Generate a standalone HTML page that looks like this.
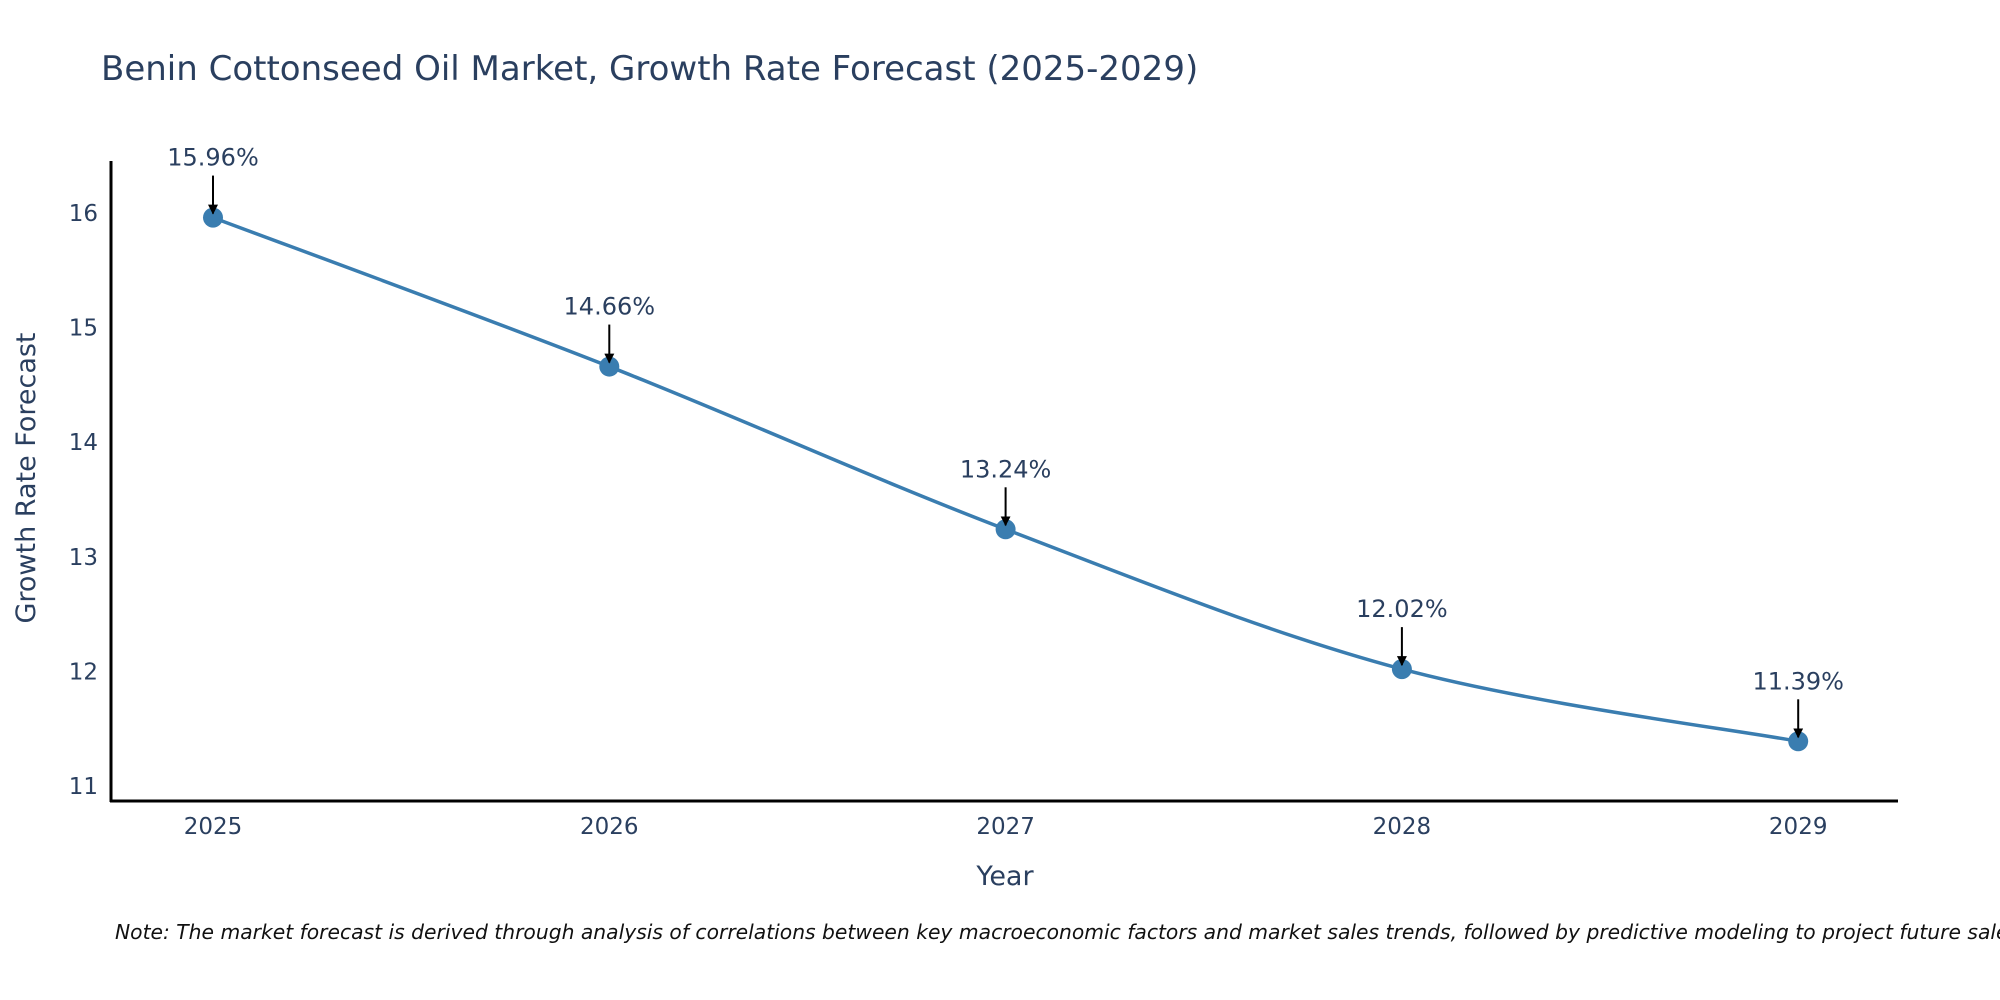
<!DOCTYPE html>
<html><head><meta charset="utf-8"><style>
body{margin:0;background:#fff}
svg{display:block;font-family:"DejaVu Sans","Liberation Sans",sans-serif}
</style></head><body>
<svg id="chart" width="2000" height="1000">
<text x="101" y="80" font-size="34" fill="#2a3f5f">Benin Cottonseed Oil Market, Growth Rate Forecast (2025-2029)</text>
<g id="axes"></g>
<g id="plot"></g>
<text x="1005" y="885" font-size="27" fill="#2a3f5f" text-anchor="middle">Year</text>
<text transform="translate(35,478) rotate(-90)" font-size="27" fill="#2a3f5f" text-anchor="middle">Growth Rate Forecast</text>
<text x="115" y="939" font-size="20.3" font-style="italic" fill="#111">Note: The market forecast is derived through analysis of correlations between key macroeconomic factors and market sales trends, followed by predictive modeling to project future sales</text>
</svg>
<script>
const years=["2025","2026","2027","2028","2029"];
const values=[15.96,14.66,13.24,12.02,11.39];
const labels=["15.96%","14.66%","13.24%","12.02%","11.39%"];
const yTicks=[11,12,13,14,15,16];
const NS="http://www.w3.org/2000/svg";
const X0=213,XSTEP=396.3,Y16=213,YUNIT=114.6;
function xs(i){return X0+i*XSTEP;}
function ys(v){return Y16+(16-v)*YUNIT;}
function mk(tag,attrs,parent,text){const e=document.createElementNS(NS,tag);for(const k in attrs)e.setAttribute(k,attrs[k]);if(text!==undefined)e.textContent=text;parent.appendChild(e);return e;}
const axes=document.getElementById('axes'),plot=document.getElementById('plot');
const ya=mk('line',{x1:111,y1:161,x2:111,y2:802,stroke:'#000','stroke-width':3},axes);


const xa=mk('line',{x1:110,y1:801,x2:1898,y2:801,stroke:'#000','stroke-width':3},axes);


yTicks.forEach(t=>{const e=mk('text',{x:98,y:ys(t)+8,'font-size':23,fill:'#2a3f5f','text-anchor':'end'},axes,String(t));

});
years.forEach((y,i)=>{const e=mk('text',{x:xs(i),y:834,'font-size':23,fill:'#2a3f5f','text-anchor':'middle'},axes,y);

});
const pts=values.map((v,i)=>[xs(i),ys(v)]);
let d='M'+pts[0][0]+','+pts[0][1];
for(let i=0;i<pts.length-1;i++){const p0=pts[Math.max(0,i-1)],p1=pts[i],p2=pts[i+1],p3=pts[Math.min(pts.length-1,i+2)];const t=0.5/3*2;
const c1=[p1[0]+(p2[0]-p0[0])*t/2,p1[1]+(p2[1]-p0[1])*t/2],c2=[p2[0]-(p3[0]-p1[0])*t/2,p2[1]-(p3[1]-p1[1])*t/2];
d+=` C${c1[0]},${c1[1]} ${c2[0]},${c2[1]} ${p2[0]},${p2[1]}`;}
const line=mk('path',{d:d,fill:'none',stroke:'#3a7db0','stroke-width':3.5},plot);


mk('defs',{},plot).innerHTML='<marker id="ah" viewBox="0 0 10 10" refX="9" refY="5" markerWidth="5" markerHeight="5" orient="auto"><path d="M0,0L10,5L0,10z" fill="#000"/></marker>';
pts.forEach((p,i)=>{
const c=mk('circle',{cx:p[0],cy:p[1],r:10,fill:'#3a7db0'},plot);


const a=mk('line',{x1:p[0],y1:p[1]-42,x2:p[0],y2:p[1]-4,stroke:'#000','stroke-width':2,'marker-end':'url(#ah)'},plot);


const tx=mk('text',{x:p[0],y:p[1]-52,'font-size':24,fill:'#2a3f5f','text-anchor':'middle'},plot,labels[i]);

});
</script>
</body></html>
